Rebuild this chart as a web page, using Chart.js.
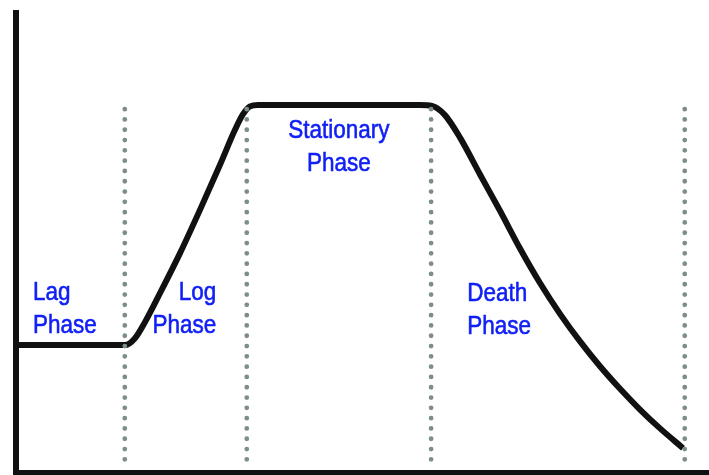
<!DOCTYPE html>
<html>
<head>
<meta charset="utf-8">
<title>Bacterial growth curve</title>
<script src="https://cdn.jsdelivr.net/npm/chart.js@4.4.1/dist/chart.umd.min.js"></script>
<style>
  html, body { margin: 0; padding: 0; background: #fff; }
  #wrap { width: 709px; height: 475px; }
</style>
</head>
<body>
<div id="wrap"><canvas id="chart-area"></canvas></div>
<script>
// growth curve (time 0-100, population 0-10)
var curveTime = [0, 15.73, 17.17, 18.61, 20.78, 23.67, 26.55, 29.44, 31.60, 32.76, 33.77, 34.92, 58.30, 60.03, 61.90, 64.07, 66.96, 69.84, 72.73, 75.61, 78.50, 81.39, 84.27, 87.16, 90.04, 92.93, 96.25];
var curvePop  = [2.78, 2.78, 2.93, 3.28, 3.91, 4.78, 5.72, 6.70, 7.46, 7.80, 7.97, 8.0, 8.0, 7.98, 7.78, 7.29, 6.49, 5.70, 4.88, 4.13, 3.46, 2.86, 2.32, 1.83, 1.38, 0.97, 0.54];

// phase boundaries (dotted lines)
var phaseBounds = [15.7, 33.3, 59.9, 96.5];
var boundTop = 7.91;
var boundBottom = 0.17;

// phase names
var phaseNames = [["Lag", "Phase"], ["Log", "Phase"], ["Stationary", "Phase"], ["Death", "Phase"]];

// where each phase name sits (data coords of first baseline) and how it is aligned
var labelAnchors = [
    { x: 2.45, y: 3.76, align: "left" },
    { x: 28.9, y: 3.76, align: "right" },
    { x: 46.6, y: 7.28, align: "center" },
    { x: 65.1, y: 3.74, align: "left" }
];

var datasets = [];
phaseBounds.forEach(function(b) {
    datasets.push({
        data: [{ x: b, y: boundTop }, { x: b, y: boundBottom }],
        borderColor: "#7f8c8c",
        borderWidth: 4.8,
        borderDash: [0, 10.3],
        borderCapStyle: "round",
        pointRadius: 0,
        tension: 0
    });
});
datasets.push({
    data: curveTime.map(function(t, i) { return { x: t, y: curvePop[i] }; }),
    borderColor: "#111111",
    borderWidth: 6,
    borderCapStyle: "butt",
    borderJoinStyle: "round",
    cubicInterpolationMode: "monotone",
    pointRadius: 0
});

var phaseLabelPlugin = {
    id: "phaseLabels",
    afterDatasetsDraw: function(chart) {
        var ctx = chart.ctx;
        var xs = chart.scales.x, ys = chart.scales.y;
        var stretch = 1.17, lineGap = 33;
        ctx.save();
        ctx.fillStyle = "#1020f5";
        ctx.strokeStyle = "#1020f5";
        ctx.lineWidth = 0.5;
        ctx.font = "22.5px 'Liberation Sans', Arial, sans-serif";
        ctx.textBaseline = "alphabetic";
        labelAnchors.forEach(function(a, i) {
            var px = xs.getPixelForValue(a.x);
            var py = ys.getPixelForValue(a.y);
            ctx.textAlign = a.align;
            phaseNames[i].forEach(function(line, j) {
                ctx.save();
                ctx.translate(px, py + j * lineGap);
                ctx.scale(1, stretch);
                ctx.fillText(line, 0, 0);
                ctx.strokeText(line, 0, 0);
                ctx.restore();
            });
        });
        ctx.restore();
    }
};

var axisOpts = function(max) {
    return {
        type: "linear",
        min: 0,
        max: max,
        ticks: { display: false },
        grid: { display: true, drawOnChartArea: false, drawTicks: false },
        border: { display: true, color: "#111111", width: 6 }
    };
};

new Chart(document.getElementById("chart-area").getContext("2d"), {
    type: "line",
    data: { datasets: datasets },
    options: {
        responsive: true,
        maintainAspectRatio: false,
        animation: false,
        layout: { padding: { left: 16, top: 13, right: 0, bottom: 2 } },
        plugins: { legend: { display: false }, tooltip: { enabled: false } },
        scales: { x: axisOpts(100), y: axisOpts(10) }
    },
    plugins: [phaseLabelPlugin]
});
</script>
</body>
</html>
